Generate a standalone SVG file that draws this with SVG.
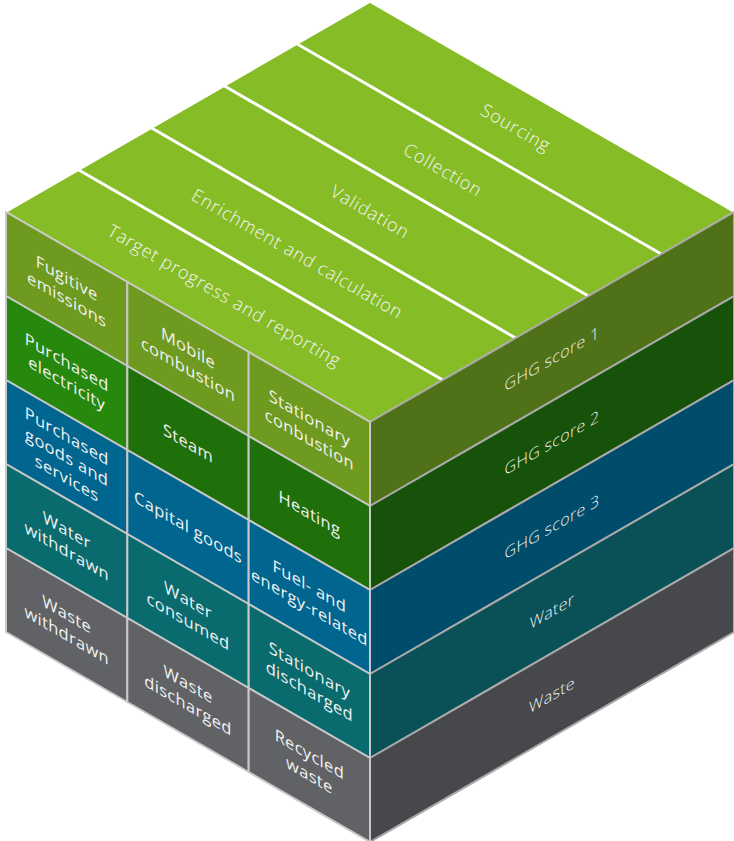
<svg xmlns="http://www.w3.org/2000/svg" width="734" height="841" viewBox="0 0 734 841">
<style>
.cell{stroke:#c8c8c8;stroke-width:2;stroke-linejoin:round}
.rf{stroke:#a9a9a9;stroke-width:2;stroke-linejoin:round}
.top{fill:#86bc25;stroke:#ffffff;stroke-width:1.5}
.div{stroke:#ffffff;stroke-width:3;fill:none}
.lt{font-family:"Open Sans","Liberation Sans",sans-serif;font-size:16.5px;letter-spacing:0.3px;fill:#f2f2f2;text-anchor:middle}
.rt{font-family:"Open Sans","Liberation Sans",sans-serif;font-size:16px;font-weight:300;letter-spacing:0.3px;fill:#f4f4f4;text-anchor:middle}
.tt{font-family:"Open Sans","Liberation Sans",sans-serif;font-size:18px;font-weight:300;letter-spacing:0.8px;fill:#f4f4f4;text-anchor:middle}
.c0{fill:#6e9a1f}.c1a{fill:#26890d}.c1{fill:#1f700b}.c2{fill:#00668f}.c3{fill:#0a6b6e}.c4{fill:#616265}
.r0{fill:#4f7118}.r1{fill:#17520a}.r2{fill:#004c6b}.r3{fill:#095156}.r4{fill:#46484b}
</style>

<!-- Top face -->
<g id="top-face">
<polygon class="top" points="6,212 370,2 734,212 370,422"/>
</g>
<g id="connectors">
<line class="div" x1="78.8" y1="170" x2="442.8" y2="380"/>
<line class="div" x1="151.6" y1="128" x2="515.6" y2="338"/>
<line class="div" x1="224.4" y1="86" x2="588.4" y2="296"/>
<line class="div" x1="297.2" y1="44" x2="661.2" y2="254"/>
</g>
<g id="top-labels">
<g id="sourcing"><text class="tt" transform="translate(515.6,128) rotate(30)" y="6">Sourcing</text></g>
<g id="collection"><text class="tt" transform="translate(442.8,170) rotate(30)" y="6">Collection</text></g>
<g id="validation"><text class="tt" transform="translate(370,212) rotate(30)" y="6">Validation</text></g>
<g id="enrichment"><text class="tt" transform="translate(297.2,254) rotate(30)" y="6">Enrichment and calculation</text></g>
<g id="target"><text class="tt" transform="translate(224.4,296) rotate(30)" y="6">Target progress and reporting</text></g>
</g>

<!-- Right face layers -->
<g id="ghg1"><polygon class="rf r0" points="370,422 734,212 734,296 370,506"/><text class="rt" transform="translate(552,359) skewY(-30)" y="5.5">GHG score 1</text></g>
<g id="ghg2"><polygon class="rf r1" points="370,506 734,296 734,380 370,590"/><text class="rt" transform="translate(552,443) skewY(-30)" y="5.5">GHG score 2</text></g>
<g id="ghg3"><polygon class="rf r2" points="370,590 734,380 734,464 370,674"/><text class="rt" transform="translate(552,527) skewY(-30)" y="5.5">GHG score 3</text></g>
<g id="water"><polygon class="rf r3" points="370,674 734,464 734,548 370,758"/><text class="rt" transform="translate(552,611) skewY(-30)" y="5.5">Water</text></g>
<g id="waste"><polygon class="rf r4" points="370,758 734,548 734,632 370,842"/><text class="rt" transform="translate(552,695) skewY(-30)" y="5.5">Waste</text></g>

<!-- Left face column 1 -->
<g id="fugitive"><polygon class="cell c0" points="6,212 127.33,282 127.33,366 6,296"/><text class="lt" transform="translate(66.67,289) skewY(30)"><tspan x="0" y="-5">Fugitive</tspan><tspan x="0" y="16">emissions</tspan></text></g>
<g id="purchased-electricity"><polygon class="cell c1a" points="6,296 127.33,366 127.33,450 6,380"/><text class="lt" transform="translate(66.67,373) skewY(30)"><tspan x="0" y="-5">Purchased</tspan><tspan x="0" y="16">electricity</tspan></text></g>
<g id="purchased-goods"><polygon class="cell c2" points="6,380 127.33,450 127.33,534 6,464"/><text class="lt" transform="translate(66.67,457) skewY(30)"><tspan x="0" y="-15">Purchased</tspan><tspan x="0" y="6">goods and</tspan><tspan x="0" y="27">services</tspan></text></g>
<g id="water-withdrawn"><polygon class="cell c3" points="6,464 127.33,534 127.33,618 6,548"/><text class="lt" transform="translate(66.67,541) skewY(30)"><tspan x="0" y="-5">Water</tspan><tspan x="0" y="16">withdrawn</tspan></text></g>
<g id="waste-withdrawn"><polygon class="cell c4" points="6,548 127.33,618 127.33,702 6,632"/><text class="lt" transform="translate(66.67,625) skewY(30)"><tspan x="0" y="-5">Waste</tspan><tspan x="0" y="16">withdrawn</tspan></text></g>

<!-- Left face column 2 -->
<g id="mobile-combustion"><polygon class="cell c0" points="127.33,282 248.67,352 248.67,436 127.33,366"/><text class="lt" transform="translate(188,359) skewY(30)"><tspan x="0" y="-5">Mobile</tspan><tspan x="0" y="16">combustion</tspan></text></g>
<g id="steam"><polygon class="cell c1" points="127.33,366 248.67,436 248.67,520 127.33,450"/><text class="lt" transform="translate(188,443) skewY(30)" y="6">Steam</text></g>
<g id="capital-goods"><polygon class="cell c2" points="127.33,450 248.67,520 248.67,604 127.33,534"/><text class="lt" transform="translate(188,527) skewY(30)" y="6">Capital goods</text></g>
<g id="water-consumed"><polygon class="cell c3" points="127.33,534 248.67,604 248.67,688 127.33,618"/><text class="lt" transform="translate(188,611) skewY(30)"><tspan x="0" y="-5">Water</tspan><tspan x="0" y="16">consumed</tspan></text></g>
<g id="waste-discharged"><polygon class="cell c4" points="127.33,618 248.67,688 248.67,772 127.33,702"/><text class="lt" transform="translate(188,695) skewY(30)"><tspan x="0" y="-5">Waste</tspan><tspan x="0" y="16">discharged</tspan></text></g>

<!-- Left face column 3 -->
<g id="stationary-combustion"><polygon class="cell c0" points="248.67,352 370,422 370,506 248.67,436"/><text class="lt" transform="translate(309.33,429) skewY(30)"><tspan x="0" y="-5">Stationary</tspan><tspan x="0" y="16">conbustion</tspan></text></g>
<g id="heating"><polygon class="cell c1" points="248.67,436 370,506 370,590 248.67,520"/><text class="lt" transform="translate(309.33,513) skewY(30)" y="6">Heating</text></g>
<g id="fuel-energy"><polygon class="cell c2" points="248.67,520 370,590 370,674 248.67,604"/><text class="lt" transform="translate(309.33,597) skewY(30)"><tspan x="0" y="-5">Fuel- and</tspan><tspan x="0" y="16">energy-related</tspan></text></g>
<g id="stationary-discharged"><polygon class="cell c3" points="248.67,604 370,674 370,758 248.67,688"/><text class="lt" transform="translate(309.33,681) skewY(30)"><tspan x="0" y="-5">Stationary</tspan><tspan x="0" y="16">discharged</tspan></text></g>
<g id="recycled-waste"><polygon class="cell c4" points="248.67,688 370,758 370,842 248.67,772"/><text class="lt" transform="translate(309.33,765) skewY(30)"><tspan x="0" y="-5">Recycled</tspan><tspan x="0" y="16">waste</tspan></text></g>
</svg>
